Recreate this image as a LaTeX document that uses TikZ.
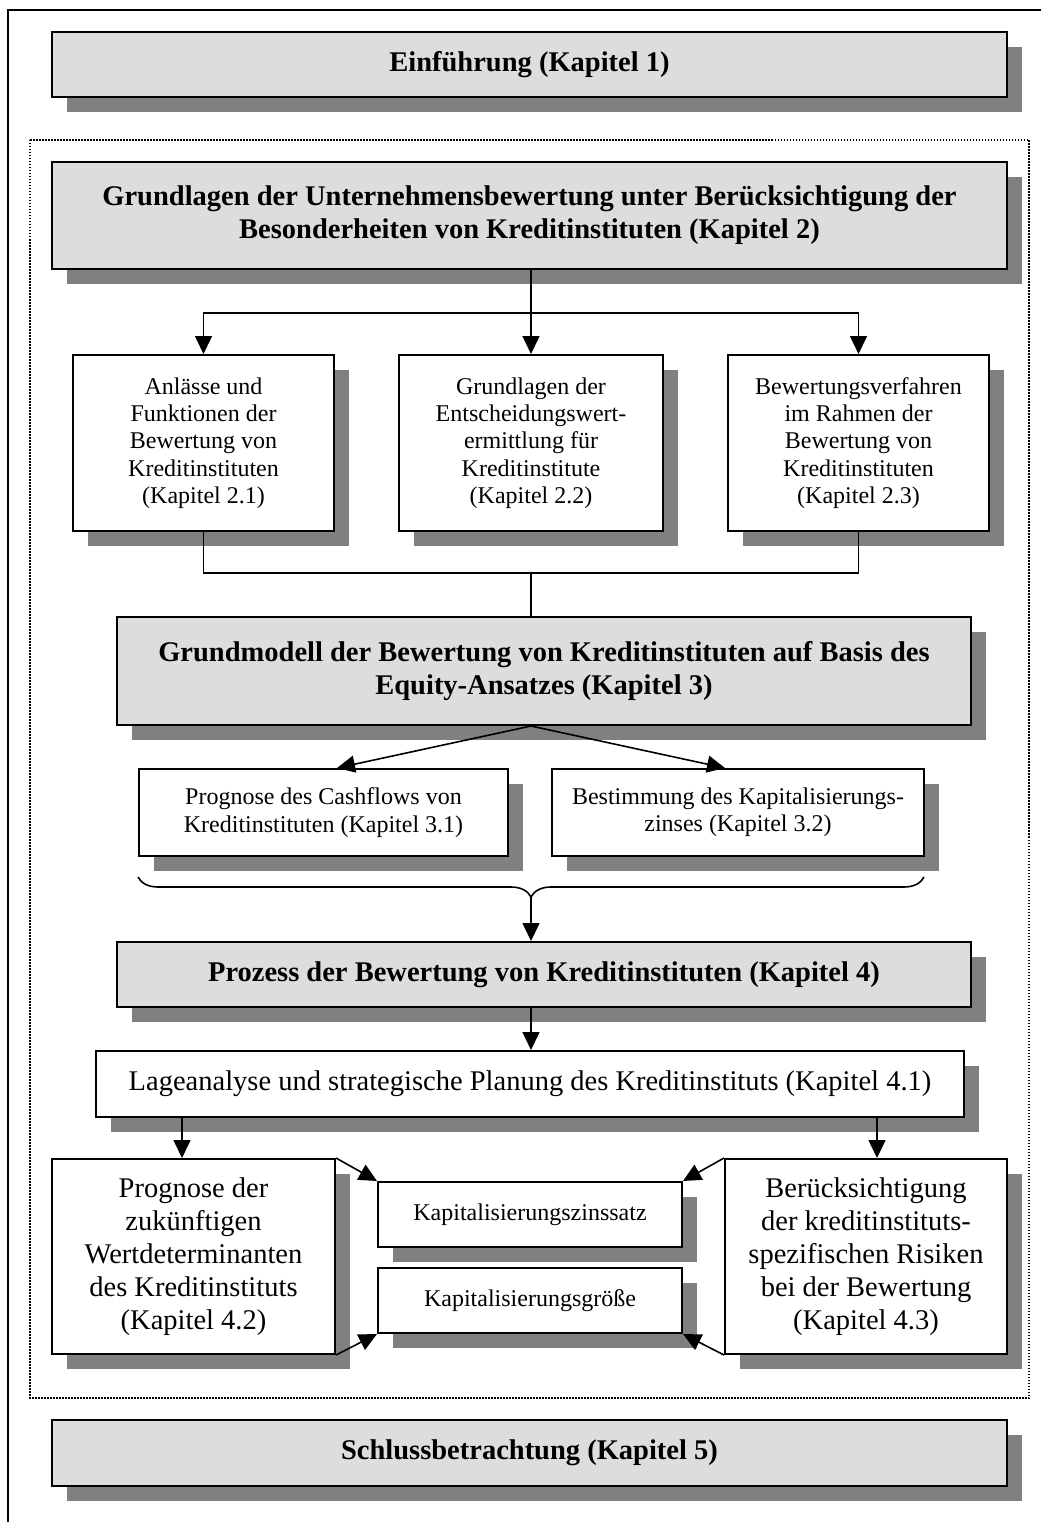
\documentclass[tikz,border=0pt]{standalone}
\usepackage{fontspec}
\setmainfont{Liberation Serif}
\usetikzlibrary{shadows,arrows.meta,decorations.pathreplacing,calc}
\definecolor{shgray}{RGB}{128,128,128}
\definecolor{boxgray}{RGB}{221,221,221}
\begin{document}
\begin{tikzpicture}[x=1pt,y=-1pt,
 base/.style={draw, line width=2pt, inner sep=0pt, align=center,
   drop shadow={shadow xshift=15pt, shadow yshift=-15pt, fill=shgray, opacity=1}},
 titlebox/.style={base, fill=boxgray, font=\bfseries\fontsize{28.5}{33}\selectfont},
 bigbox/.style={base, fill=white, font=\fontsize{28.5}{33}\selectfont},
 smallbox/.style={base, fill=white, font=\fontsize{24}{27.3}\selectfont},
 arr/.style={line width=1.6pt, -{Triangle[length=18pt,width=17pt]}},
 conn/.style={line width=1.6pt},
]
\useasboundingbox (0,0) rectangle (1041,1522);
% frames
\draw[line width=2pt] (8,1522) -- (8,10) -- (1041,10);
\draw[line width=1.5pt, dash pattern=on 1.5pt off 1.5pt] (30,140) rectangle (1029,1398);

% nodes
\node[titlebox, minimum width=955pt, minimum height=65pt] (e1) at (529.5,64.5) {Einführung (Kapitel 1)};
\node[titlebox, minimum width=955pt, minimum height=107pt] (g2) at (529.5,215.5)
  {Grundlagen der Unternehmensbewertung unter Berücksichtigung der\\Besonderheiten von Kreditinstituten (Kapitel 2)};
\node[smallbox, minimum width=261pt, minimum height=176pt] (b21) at (203.5,443)
  {Anlässe und\\Funktionen der\\Bewertung von\\Kreditinstituten\\(Kapitel 2.1)};
\node[smallbox, minimum width=264pt, minimum height=176pt] (b22) at (531,443)
  {Grundlagen der\\Entscheidungswert-\\ermittlung für\\Kreditinstitute\\(Kapitel 2.2)};
\node[smallbox, minimum width=261pt, minimum height=176pt] (b23) at (858.5,443)
  {Bewertungsverfahren\\im Rahmen der\\Bewertung von\\Kreditinstituten\\(Kapitel 2.3)};
\node[titlebox, minimum width=854pt, minimum height=108pt] (g3) at (544,671)
  {Grundmodell der Bewertung von Kreditinstituten auf Basis des\\Equity-Ansatzes (Kapitel 3)};
\node[smallbox, minimum width=369pt, minimum height=87pt] (b31) at (323.5,812.5)
  {Prognose des Cashflows von\\Kreditinstituten (Kapitel 3.1)};
\node[smallbox, minimum width=372pt, minimum height=87pt] (b32) at (738,812.5)
  {Bestimmung des Kapitalisierungs-\\zinses (Kapitel 3.2)};
\node[titlebox, minimum width=854pt, minimum height=65pt] (g4) at (544,974.5)
  {Prozess der Bewertung von Kreditinstituten (Kapitel 4)};
\node[bigbox, minimum width=868pt, minimum height=66pt] (b41) at (530,1084)
  {Lageanalyse und strategische Planung des Kreditinstituts (Kapitel 4.1)};
\node[bigbox, minimum width=283pt, minimum height=195pt] (b42) at (193.5,1256.5)
  {Prognose der\\zukünftigen\\Wertdeterminanten\\des Kreditinstituts\\(Kapitel 4.2)};
\node[bigbox, minimum width=282pt, minimum height=195pt] (b43) at (866,1256.5)
  {Berücksichtigung\\der kreditinstituts-\\spezifischen Risiken\\bei der Bewertung\\(Kapitel 4.3)};
\node[smallbox, minimum width=304pt, minimum height=65pt] (kz) at (530,1214.5) {Kapitalisierungszinssatz};
\node[smallbox, minimum width=304pt, minimum height=65pt] (kg) at (530,1300.5) {Kapitalisierungsgröße};
\node[titlebox, minimum width=955pt, minimum height=66pt] (s5) at (529.5,1453) {Schlussbetrachtung (Kapitel 5)};

% coordinates
\coordinate (j1) at (531,313);
\coordinate (j2) at (531,573);
\coordinate (brL) at (138,877);
\coordinate (brR) at (924,877);
\coordinate (brT) at (531,897);
\coordinate (xL) at (182,0);
\coordinate (xR) at (877,0);
\coordinate (xM) at (531,0);

% connectors
\draw[conn] (g2.south -| xM) -- (j1);
\draw[arr] (j1) -| (b21.north);
\draw[arr] (j1) -- (b22.north -| j1);
\draw[arr] (j1) -| (b23.north);
\draw[conn] (b21.south) |- (j2);
\draw[conn] (b23.south) |- (j2);
\draw[conn] (j2) -- (g3.north -| j2);
\draw[arr] (g3.south -| xM) -- ([xshift=13.5pt]b31.north);
\draw[arr] (g3.south -| xM) -- ([xshift=-13pt]b32.north);
\draw[conn, decorate, decoration={brace, mirror, amplitude=20pt}] (brL) -- (brR);
\draw[arr] (brT) -- (g4.north -| brT);
\draw[arr] (g4.south -| xM) -- (b41.north -| xM);
\draw[arr] (b41.south -| xL) -- (b42.north -| xL);
\draw[arr] (b41.south -| xR) -- (b43.north -| xR);
\draw[arr] (b42.north east) -- (kz.north west);
\draw[arr] (b42.south east) -- (kg.south west);
\draw[arr] (b43.north west) -- (kz.north east);
\draw[arr] (b43.south west) -- (kg.south east);
\end{tikzpicture}
\end{document}
